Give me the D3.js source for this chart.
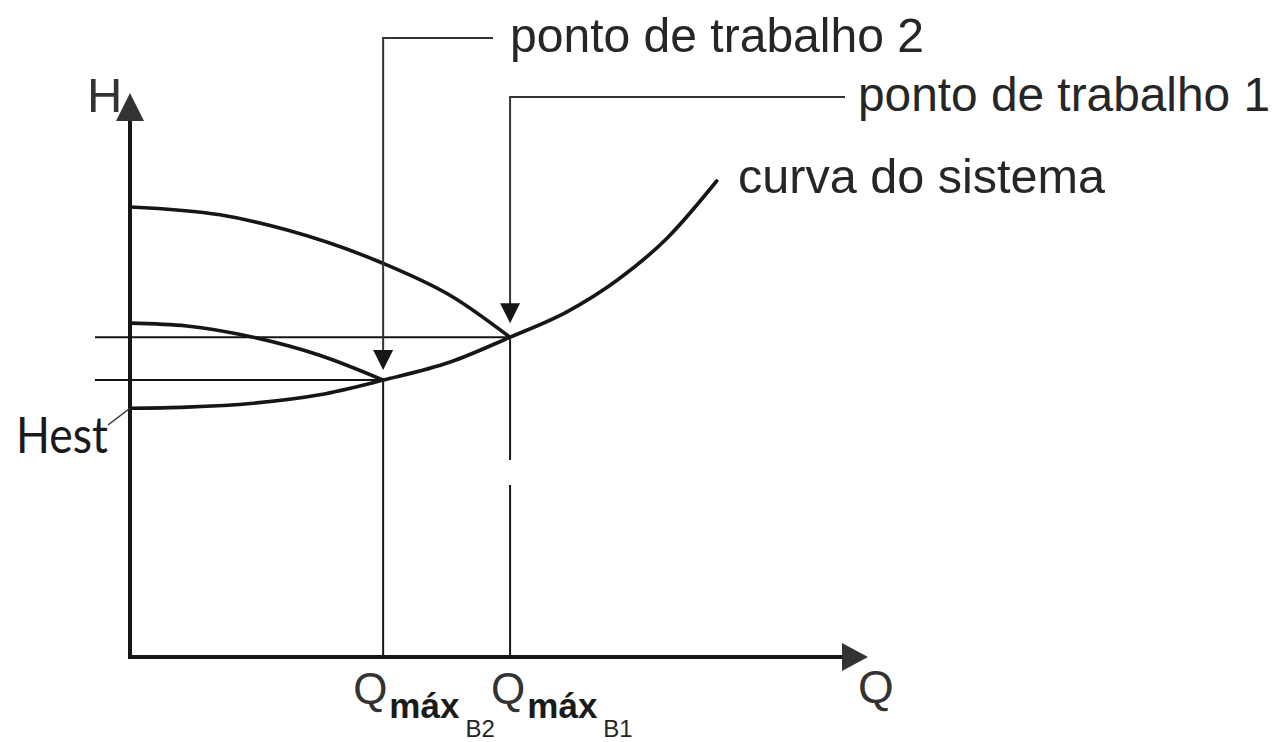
<!DOCTYPE html>
<html>
<head>
<meta charset="utf-8">
<script src="https://cdn.jsdelivr.net/npm/d3@7"></script>
<style>
  html, body { margin: 0; padding: 0; background: #fff; }
  svg { display: block; }
</style>
</head>
<body>
<svg id="chart" width="1280" height="742"></svg>
<script>
// Pump head curves H(Q) for the two pump configurations, and the system curve
const pumpCurve1 = [[0, 7.98], [1.22, 7.84], [2.13, 7.57], [3.41, 6.99], [4.38, 6.38], [5.15, 5.67]];
const pumpCurve2 = [[0, 5.92], [0.77, 5.87], [1.67, 5.67], [2.57, 5.35], [3.43, 4.91]];
const systemCurve = [[0, 4.41], [0.77, 4.43], [1.67, 4.50], [2.57, 4.65], [3.43, 4.91], [4.34, 5.23],
                     [5.15, 5.67], [5.92, 6.12], [6.60, 6.68], [7.28, 7.43], [7.95, 8.44]];

// Operating points (Q, H) and static head
const workingPoints = [
  { name: "ponto de trabalho 1", q: 5.15, h: 5.67, sub: "B1" },
  { name: "ponto de trabalho 2", q: 3.43, h: 4.91, sub: "B2" }
];
const staticHead = 4.41;

// Axis and annotation labels
const axisLabels = { h: "H", q: "Q", hest: "Hest", system: "curva do sistema", qmax: "máx" };

const svg = d3.select("#chart");
const x = d3.scaleLinear().domain([0, 10]).range([130, 868]);
const y = d3.scaleLinear().domain([0, 10]).range([657, 93]);

const INK = "#161616";
const TEXT = "#262626";
const FONT = "'Liberation Sans', Arial, sans-serif";

const line = d3.line().x(d => x(d[0])).y(d => y(d[1])).curve(d3.curveMonotoneX);

// --- axes with arrowheads
svg.append("line").attr("x1", x(0)).attr("x2", x(0))
  .attr("y1", y(0) + 2).attr("y2", y(10) + 24)
  .attr("stroke", INK).attr("stroke-width", 4);
svg.append("path")
  .attr("d", `M${x(0)},${y(10)} L${x(0) + 14},${y(10) + 28} L${x(0) - 14},${y(10) + 28} Z`)
  .attr("fill", "#333");
svg.append("line").attr("x1", x(0) - 2).attr("x2", x(10) - 24)
  .attr("y1", y(0)).attr("y2", y(0))
  .attr("stroke", INK).attr("stroke-width", 4);
svg.append("path")
  .attr("d", `M${x(10)},${y(0)} L${x(10) - 26},${y(0) - 14} L${x(10) - 26},${y(0) + 14} Z`)
  .attr("fill", "#333");

svg.append("text").attr("x", 87).attr("y", 112)
  .attr("font-family", FONT).attr("font-size", 49).attr("fill", "#333")
  .text(axisLabels.h);
svg.append("text").attr("x", 858).attr("y", 703)
  .attr("font-family", FONT).attr("font-size", 46).attr("fill", "#333")
  .text(axisLabels.q);

// --- horizontal head lines at each operating point
workingPoints.forEach(p => {
  svg.append("line")
    .attr("x1", x(0) - 35).attr("x2", x(p.q))
    .attr("y1", y(p.h)).attr("y2", y(p.h))
    .attr("stroke", INK).attr("stroke-width", 2);
});

// --- vertical flow lines from each operating point down to the Q axis
const p1 = workingPoints[0], p2 = workingPoints[1];
svg.append("line").attr("x1", x(p2.q)).attr("x2", x(p2.q))
  .attr("y1", y(p2.h) + 2).attr("y2", y(0))
  .attr("stroke", INK).attr("stroke-width", 2);
svg.append("line").attr("x1", x(p1.q)).attr("x2", x(p1.q))
  .attr("y1", y(p1.h) + 2).attr("y2", 460)
  .attr("stroke", INK).attr("stroke-width", 2);
svg.append("line").attr("x1", x(p1.q)).attr("x2", x(p1.q))
  .attr("y1", 485).attr("y2", y(0))
  .attr("stroke", INK).attr("stroke-width", 2);

// --- curves
[pumpCurve1, pumpCurve2, systemCurve].forEach(c => {
  svg.append("path").datum(c).attr("d", line)
    .attr("fill", "none").attr("stroke", INK)
    .attr("stroke-width", 3.6).attr("stroke-linecap", "round");
});

// --- leader lines with arrows pointing at the operating points
const leaders = [
  { p: p2, top: 38, end: 493, tipGap: 10, tx: 510, ty: 52 },
  { p: p1, top: 97, end: 845, tipGap: 14, tx: 858, ty: 111 }
];
leaders.forEach(l => {
  const lx = x(l.p.q), tip = y(l.p.h) - l.tipGap;
  svg.append("path")
    .attr("d", `M${l.end},${l.top} H${lx} V${tip - 18}`)
    .attr("fill", "none").attr("stroke", "#333").attr("stroke-width", 2);
  svg.append("path")
    .attr("d", `M${lx},${tip} L${lx - 10},${tip - 20} L${lx + 10},${tip - 20} Z`)
    .attr("fill", INK);
  svg.append("text").attr("x", l.tx).attr("y", l.ty)
    .attr("font-family", FONT).attr("font-size", 48).attr("fill", TEXT)
    .attr("textLength", l.p.name === "ponto de trabalho 1" ? 412 : 414)
    .attr("lengthAdjust", "spacingAndGlyphs")
    .text(l.p.name);
});

svg.append("text").attr("x", 738).attr("y", 193)
  .attr("font-family", FONT).attr("font-size", 48).attr("fill", TEXT)
  .attr("textLength", 367).attr("lengthAdjust", "spacingAndGlyphs")
  .text(axisLabels.system);

// --- static head label with leader
svg.append("line")
  .attr("x1", x(0)).attr("y1", y(staticHead))
  .attr("x2", 108).attr("y2", 425)
  .attr("stroke", "#333").attr("stroke-width", 1.5);
svg.append("text").attr("x", 16).attr("y", 453)
  .attr("font-family", "Lato, 'Open Sans', sans-serif").attr("font-size", 51).attr("fill", "#1a1a1a")
  .attr("textLength", 92).attr("lengthAdjust", "spacingAndGlyphs")
  .text(axisLabels.hest);

// --- Qmax labels under the Q axis
const qLabelOffset = { B2: -30, B1: -19 };
workingPoints.forEach(p => {
  const t = svg.append("text")
    .attr("x", x(p.q) + qLabelOffset[p.sub]).attr("y", 704)
    .attr("font-family", FONT).attr("fill", TEXT);
  t.append("tspan").attr("font-size", 44).attr("fill", "#333").text(axisLabels.q);
  t.append("tspan").attr("font-size", 35).attr("font-weight", "bold").attr("dx", 2).attr("dy", 14)
    .attr("fill", "#1a1a1a").text(axisLabels.qmax);
  t.append("tspan").attr("font-size", 24).attr("dx", 6).attr("dy", 19).text(p.sub);
});
</script>
</body>
</html>
